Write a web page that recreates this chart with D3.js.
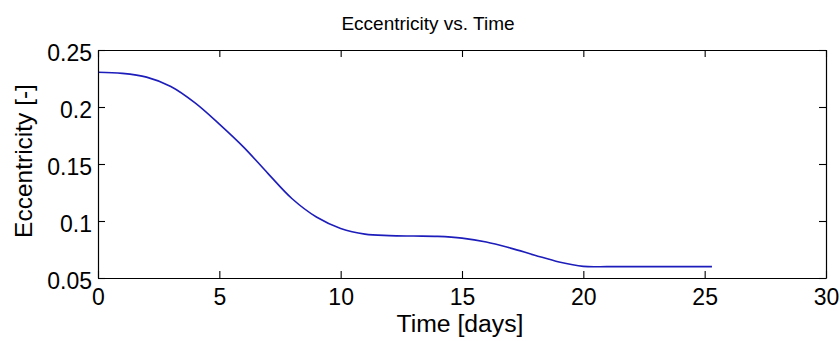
<!DOCTYPE html>
<html>
<head>
<meta charset="utf-8">
<script src="https://cdn.jsdelivr.net/npm/d3@7"></script>
<style>
  html, body { margin: 0; padding: 0; background: #fff; }
  svg { display: block; font-family: "Liberation Sans", Arial, Helvetica, sans-serif; }
</style>
</head>
<body>
<svg id="chart" width="840" height="341"></svg>
<script>
// Orbit eccentricity history
const timeDays = [0, 1, 2, 3, 4, 5, 6, 7, 8, 9, 10, 11, 12, 13, 14, 15, 16, 17, 18, 19, 20, 21, 22, 23, 24, 25, 25.3];
const eccentricity = [0.2305, 0.2295, 0.2262, 0.2180, 0.2036, 0.1850, 0.1648, 0.1418, 0.1195, 0.1035,
  0.0935, 0.0885, 0.0872, 0.0868, 0.0865, 0.0850, 0.0816, 0.0762, 0.0700, 0.0640,
  0.0602, 0.0600, 0.0600, 0.0600, 0.0600, 0.0600, 0.0600];
const xTicks = [0, 5, 10, 15, 20, 25, 30];
const yTicks = [0.05, 0.1, 0.15, 0.2, 0.25];
const yTickLabels = ["0.05", "0.1", "0.15", "0.2", "0.25"];

const W = 840, H = 341;
const margin = { top: 50, right: 14, bottom: 63, left: 98 };
const iw = W - margin.left - margin.right;
const ih = H - margin.top - margin.bottom;

const svg = d3.select("#chart");
const g = svg.append("g").attr("transform", `translate(${margin.left},${margin.top})`);

const x = d3.scaleLinear().domain([0, 30]).range([0, iw]);
const y = d3.scaleLinear().domain([0.05, 0.25]).range([ih, 0]);

const tickLen = 7;

// Curve
const line = d3.line()
  .x((d, i) => x(timeDays[i]))
  .y(d => y(d))
  .curve(d3.curveCatmullRom.alpha(0.5));

g.append("path")
  .datum(eccentricity)
  .attr("d", line)
  .attr("fill", "none")
  .attr("stroke", "#1d1dbb")
  .attr("stroke-width", 1.6);

// Axes (ticks point inward on all four sides)
function styleAxis(sel) {
  sel.select(".domain").attr("stroke", "#000").attr("stroke-width", 1.2);
  sel.selectAll(".tick line").attr("stroke", "#000").attr("stroke-width", 1.1);
  sel.selectAll("text").attr("fill", "#000");
}

const axisB = g.append("g")
  .attr("transform", `translate(0,${ih})`)
  .call(d3.axisBottom(x).tickValues(xTicks).tickFormat(d3.format("d"))
    .tickSizeInner(-tickLen).tickSizeOuter(0).tickPadding(11));
axisB.selectAll("text").attr("font-size", 23);
styleAxis(axisB);

const axisL = g.append("g")
  .call(d3.axisLeft(y).tickValues(yTicks).tickFormat((d, i) => yTickLabels[i])
    .tickSizeInner(-tickLen).tickSizeOuter(0).tickPadding(6));
axisL.selectAll("text").attr("font-size", 23).attr("dy", "0.46em");
styleAxis(axisL);

const axisT = g.append("g")
  .call(d3.axisTop(x).tickValues(xTicks).tickFormat("")
    .tickSizeInner(-tickLen).tickSizeOuter(0));
styleAxis(axisT);

const axisR = g.append("g")
  .attr("transform", `translate(${iw},0)`)
  .call(d3.axisRight(y).tickValues(yTicks).tickFormat("")
    .tickSizeInner(-tickLen).tickSizeOuter(0));
styleAxis(axisR);

// Title and axis labels
svg.append("text")
  .attr("x", 428).attr("y", 30)
  .attr("text-anchor", "middle")
  .attr("font-size", 19)
  .text("Eccentricity vs. Time");

svg.append("text")
  .attr("x", 460).attr("y", 332)
  .attr("text-anchor", "middle")
  .attr("font-size", 23.5)
  .attr("textLength", 127)
  .attr("lengthAdjust", "spacingAndGlyphs")
  .text("Time [days]");

svg.append("text")
  .attr("transform", "translate(32,161) rotate(-90)")
  .attr("text-anchor", "middle")
  .attr("font-size", 24.5)
  .text("Eccentricity [-]");
</script>
</body>
</html>
